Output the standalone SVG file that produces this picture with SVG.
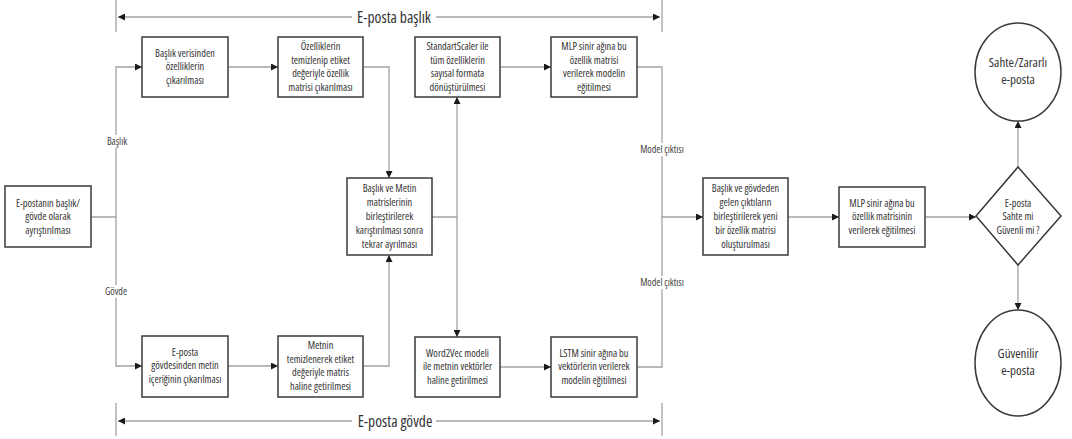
<svg xmlns="http://www.w3.org/2000/svg" width="1072" height="439" viewBox="0 0 1072 439">
<style>
.box{fill:#fff;stroke:#3a3a3a;stroke-width:1.5}
.c{fill:none;stroke:#a3a3a3;stroke-width:1.3}
.t{font-family:"Open Sans","Liberation Sans",sans-serif;font-size:10.3px;font-stretch:condensed;fill:#333;text-anchor:middle}
.lbl{font-family:"Open Sans","Liberation Sans",sans-serif;font-size:10px;font-stretch:condensed;fill:#444;text-anchor:middle}
.big{font-family:"Open Sans","Liberation Sans",sans-serif;font-size:15.5px;font-stretch:condensed;fill:#333;text-anchor:middle}
.circ{font-family:"Open Sans","Liberation Sans",sans-serif;font-size:13px;font-stretch:condensed;fill:#333;text-anchor:middle}
.bg{fill:#fff}
</style>
<defs>
<marker id="ah" viewBox="0 0 10 10" refX="10" refY="5" markerWidth="7" markerHeight="7" markerUnits="userSpaceOnUse" orient="auto">
<path d="M0,0 L10,5 L0,10 z" fill="#1a1a1a"/>
</marker>
</defs>
<g id="brackets">
<path class="c" d="M116,0 V32 M662,0 V32 M116,403 V436 M662,403 V436"/>
<path class="c" d="M390,17 H118" marker-end="url(#ah)"/>
<path class="c" d="M390,17 H660" marker-end="url(#ah)"/>
<path class="c" d="M390,421 H118" marker-end="url(#ah)"/>
<path class="c" d="M390,421 H660" marker-end="url(#ah)"/>
<rect class="bg" x="352" y="7" width="84" height="20"/>
<text class="big" x="394" y="22.5">E-posta başlık</text>
<rect class="bg" x="352" y="411" width="84" height="20"/>
<text class="big" x="395" y="426.5">E-posta gövde</text>
</g>
<g id="connectors">
<path class="c" d="M91,217 H116 V67 H142" marker-end="url(#ah)"/>
<path class="c" d="M116,217 V366 H142" marker-end="url(#ah)"/>
<path class="c" d="M228,67 H278" marker-end="url(#ah)"/>
<path class="c" d="M228,366 H278" marker-end="url(#ah)"/>
<path class="c" d="M363,67 H389 V178" marker-end="url(#ah)"/>
<path class="c" d="M363,366 H389 V255" marker-end="url(#ah)"/>
<path class="c" d="M432,217 H457 V97" marker-end="url(#ah)"/>
<path class="c" d="M457,217 V337" marker-end="url(#ah)"/>
<path class="c" d="M500,67 H551" marker-end="url(#ah)"/>
<path class="c" d="M500,367 H551" marker-end="url(#ah)"/>
<path class="c" d="M637,67 H662 V217 H703" marker-end="url(#ah)"/>
<path class="c" d="M637,367 H662 V217"/>
<path class="c" d="M788,217 H839" marker-end="url(#ah)"/>
<path class="c" d="M925,217 H976" marker-end="url(#ah)"/>
<path class="c" d="M1018,167 V121" marker-end="url(#ah)"/>
<path class="c" d="M1018,265 V310" marker-end="url(#ah)"/>
<rect class="bg" x="102" y="135" width="30" height="13"/>
<text class="lbl" x="117" y="145">Başlık</text>
<rect class="bg" x="101" y="285" width="30" height="13"/>
<text class="lbl" x="116" y="295">Gövde</text>
<rect class="bg" x="634" y="143" width="56" height="13"/>
<text class="lbl" x="662" y="153">Model çıktısı</text>
<rect class="bg" x="634" y="276" width="56" height="13"/>
<text class="lbl" x="662" y="286">Model çıktısı</text>
</g>
<g id="n0">
<rect class="box" x="5" y="186" width="86" height="61"/>
<text class="t" x="48" y="206.5">E-postanın başlık/</text>
<text class="t" x="48" y="220.3">gövde olarak</text>
<text class="t" x="48" y="234.1">ayrıştırılması</text>
</g>
<g id="n1">
<rect class="box" x="142" y="37" width="86" height="60"/>
<text class="t" x="185" y="56.5">Başlık verisinden</text>
<text class="t" x="185" y="70.3">özelliklerin</text>
<text class="t" x="185" y="84.1">çıkarılması</text>
</g>
<g id="n2">
<rect class="box" x="278" y="37" width="85" height="60"/>
<text class="t" x="320.5" y="49.8">Özelliklerin</text>
<text class="t" x="320.5" y="63.6">temizlenip etiket</text>
<text class="t" x="320.5" y="77.4">değeriyle özellik</text>
<text class="t" x="320.5" y="91.2">matrisi çıkarılması</text>
</g>
<g id="n3">
<rect class="box" x="142" y="336" width="86" height="61"/>
<text class="t" x="185" y="355.5">E-posta</text>
<text class="t" x="185" y="369.3">gövdesinden metin</text>
<text class="t" x="185" y="383.1">içeriğinin çıkarılması</text>
</g>
<g id="n4">
<rect class="box" x="278" y="336" width="85" height="61"/>
<text class="t" x="320.5" y="348.8">Metnin</text>
<text class="t" x="320.5" y="362.6">temizlenerek etiket</text>
<text class="t" x="320.5" y="376.4">değeriyle matris</text>
<text class="t" x="320.5" y="390.2">haline getirilmesi</text>
</g>
<g id="n5">
<rect class="box" x="347" y="178" width="85" height="77"/>
<text class="t" x="389.5" y="192.4">Başlık ve Metin</text>
<text class="t" x="389.5" y="206.2">matrislerinin</text>
<text class="t" x="389.5" y="220">birleştirilerek</text>
<text class="t" x="389.5" y="233.8">karıştırılması sonra</text>
<text class="t" x="389.5" y="247.6">tekrar ayrılması</text>
</g>
<g id="n6">
<rect class="box" x="415" y="37" width="85" height="60"/>
<text class="t" x="457.5" y="49.8">StandartScaler ile</text>
<text class="t" x="457.5" y="63.6">tüm özelliklerin</text>
<text class="t" x="457.5" y="77.4">sayısal formata</text>
<text class="t" x="457.5" y="91.2">dönüştürülmesi</text>
</g>
<g id="n7">
<rect class="box" x="551" y="37" width="86" height="60"/>
<text class="t" x="594" y="49.8">MLP sinir ağına bu</text>
<text class="t" x="594" y="63.6">özellik matrisi</text>
<text class="t" x="594" y="77.4">verilerek modelin</text>
<text class="t" x="594" y="91.2">eğitilmesi</text>
</g>
<g id="n8">
<rect class="box" x="415" y="337" width="85" height="60"/>
<text class="t" x="457.5" y="356.5">Word2Vec modeli</text>
<text class="t" x="457.5" y="370.3">ile metnin vektörler</text>
<text class="t" x="457.5" y="384.1">haline getirilmesi</text>
</g>
<g id="n9">
<rect class="box" x="551" y="337" width="86" height="60"/>
<text class="t" x="594" y="356.5">LSTM sinir ağına bu</text>
<text class="t" x="594" y="370.3">vektörlerin verilerek</text>
<text class="t" x="594" y="384.1">modelin eğitilmesi</text>
</g>
<g id="n10">
<rect class="box" x="703" y="178" width="85" height="77"/>
<text class="t" x="745.5" y="192.4">Başlık ve gövdeden</text>
<text class="t" x="745.5" y="206.2">gelen çıktıların</text>
<text class="t" x="745.5" y="220">birleştirilerek yeni</text>
<text class="t" x="745.5" y="233.8">bir özellik matrisi</text>
<text class="t" x="745.5" y="247.6">oluşturulması</text>
</g>
<g id="n11">
<rect class="box" x="839" y="187" width="86" height="60"/>
<text class="t" x="882" y="206.5">MLP sinir ağına bu</text>
<text class="t" x="882" y="220.3">özellik matrisinin</text>
<text class="t" x="882" y="234.1">verilerek eğitilmesi</text>
</g>
<g id="n12">
<polygon class="box" points="1018,167 1061,216 1018,265 976,216"/>
<text class="t" x="1018" y="206.5">E-posta</text>
<text class="t" x="1018" y="220.3">Sahte mi</text>
<text class="t" x="1018" y="234.1">Güvenli mi ?</text>
</g>
<g id="n13">
<ellipse class="box" cx="1018" cy="72" rx="43" ry="49"/>
<text class="circ" x="1018" y="67">Sahte/Zararlı</text>
<text class="circ" x="1018" y="84">e-posta</text>
</g>
<g id="n14">
<ellipse class="box" cx="1018" cy="363" rx="43" ry="53"/>
<text class="circ" x="1018" y="358">Güvenilir</text>
<text class="circ" x="1018" y="375">e-posta</text>
</g>
</svg>
